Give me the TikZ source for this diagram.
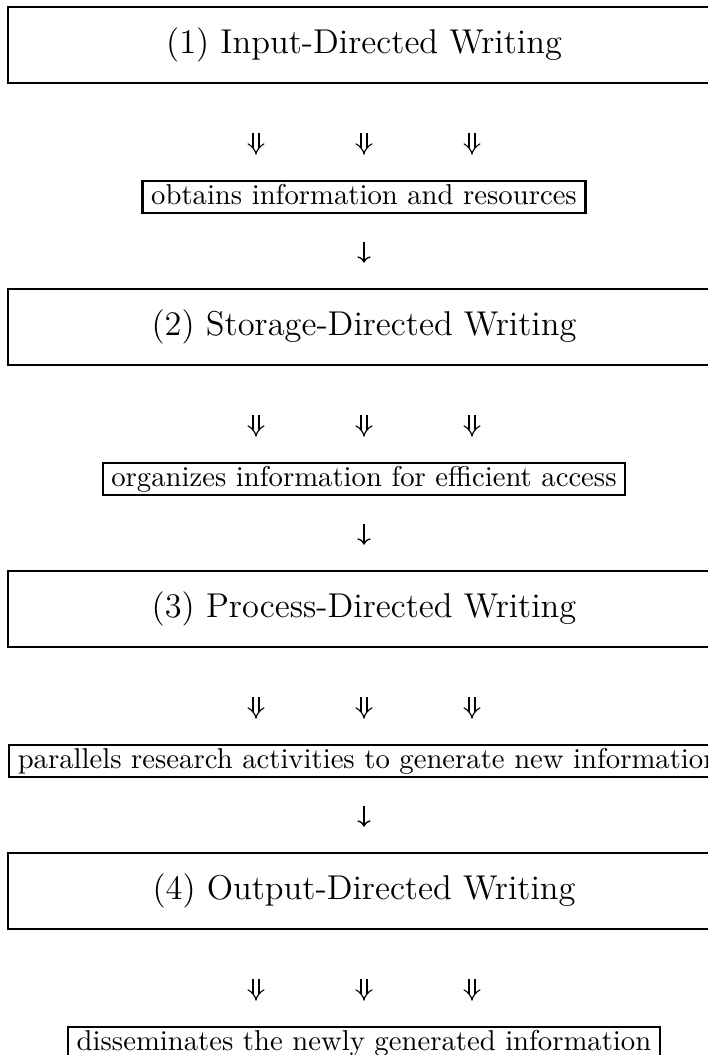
\documentclass[tikz,border=0pt]{standalone}
\usetikzlibrary{arrows.meta}
\begin{document}
\begin{tikzpicture}[x=0.3485pt, y=-0.3485pt,
        stage/.style={draw, line width=0.9pt, minimum width=248pt, minimum height=26.5pt, inner sep=0pt, font=\large},
        outcome/.style={draw, line width=0.8pt, inner xsep=3pt, inner ysep=1.2pt, text height=6.94pt, text depth=1.94pt},
        feed/.style={double, double distance=1.7pt, line width=0.4pt, -{Implies}, shorten <=17.1pt, shorten >=8.7pt},
        link/.style={-{To[length=2.2pt]}, line width=0.45pt, shorten <=9.8pt, shorten >=8.7pt}
    ]
    \useasboundingbox (0,0) rectangle (708,1055);
    \clip (0,0) rectangle (708,1055);
    \node[stage] (b1) at (364,45) {(1) Input-Directed Writing};
    \node[outcome] (s1) at (364,197) {obtains information and resources};
    \node[stage] (b2) at (364,327) {(2) Storage-Directed Writing};
    \node[outcome] (s2) at (364,479) {organizes information for efficient access};
    \node[stage] (b3) at (364,609) {(3) Process-Directed Writing};
    \node[outcome, anchor=west] (s3) at (8,761) {parallels research activities to generate new information};
    \node[stage] (b4) at (364,891) {(4) Output-Directed Writing};
    \node[outcome] (s4) at (364,1043) {disseminates the newly generated information};

    \foreach \i in {1,...,4} {
        \coordinate (t\i) at (b\i.south |- s\i.north);
        \foreach \dx in {-108,0,108}
            \draw[feed] ([xshift=\dx*0.3485pt]b\i.south) -- ([xshift=\dx*0.3485pt]t\i);
    }
    \foreach \i/\j in {1/2,2/3,3/4}
        \draw[link] (s\i.south -| b\j.north) -- (b\j.north);
\end{tikzpicture}
\end{document}
